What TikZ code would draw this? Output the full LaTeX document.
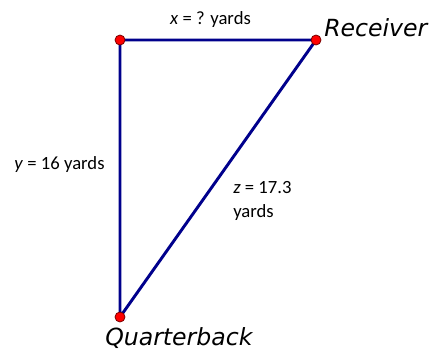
\documentclass[tikz,border=0pt]{standalone}
\usepackage{fontspec}
\setmainfont{Carlito}
\newfontfamily\bigit{DejaVu Sans}
\begin{document}
\begin{tikzpicture}[x=0.75pt,y=-0.75pt,
  seg/.style={draw={rgb,255:red,0;green,0;blue,140},line width=2.2pt},
  pt/.style={circle,fill=red,draw={rgb,255:red,120;green,0;blue,0},line width=0.6pt,inner sep=0pt,minimum size=7.5pt},
  lbl/.style={font=\fontsize{14}{18}\selectfont,inner sep=0pt},
  big/.style={font=\bigit\itshape\fontsize{17.7}{20}\selectfont,inner sep=0pt}]
\useasboundingbox (0,0) rectangle (431,350);
\coordinate (TL) at (120,40);
\coordinate (R) at (316,40);
\coordinate (Q) at (120,317);
\draw[seg] (TL) -- (R) -- (Q) -- cycle;
\node[pt] (tl) at (TL) {};
\node[pt] (r) at (R) {};
\node[pt] (q) at (Q) {};
\node[lbl,anchor=base] (xl) at (210.5,24) {\textit{x} = ? yards};
\node[lbl,anchor=base] (yl) at (59.5,169) {\textit{y} = 16 yards};
\node[lbl,anchor=base west] (zl) at (233,193) {\textit{z} = 17.3};
\node[lbl,anchor=base west] (zl2) at (233,217) {yards};
\node[big,anchor=base west] (rl) at (324,36) {Receiver};
\node[big,anchor=base west] (ql) at (105,345) {Quarterback};
\end{tikzpicture}
\end{document}
